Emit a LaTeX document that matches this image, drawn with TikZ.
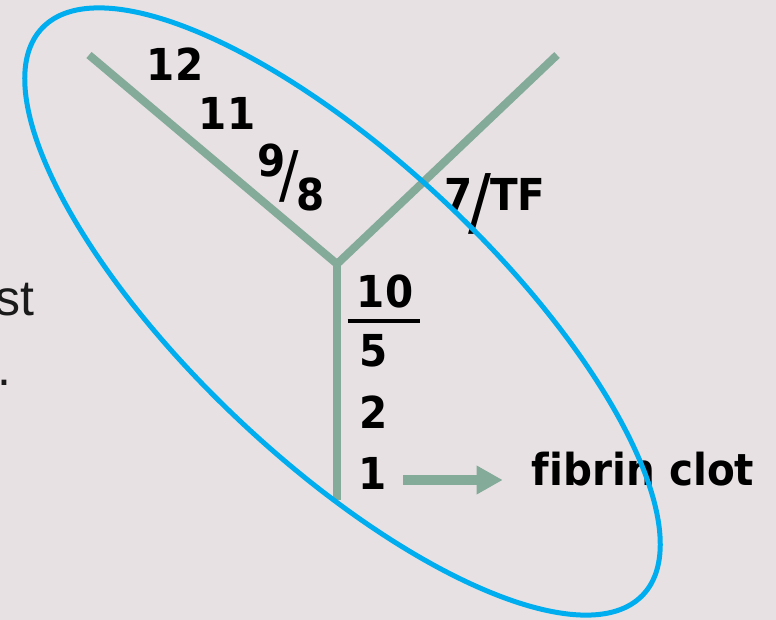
\documentclass[tikz,border=0pt]{standalone}
\usepackage{fontspec}
\usetikzlibrary{arrows.meta}
\newfontfamily\lblfont[FakeStretch=0.92,Ligatures=NoCommon]{DejaVu Sans}
\newfontfamily\txtfont{Liberation Sans}
\definecolor{cascade}{RGB}{132,170,153}
\definecolor{qqaeef}{RGB}{0,174,239}
\definecolor{eheceh}{RGB}{231,225,227}
\definecolor{qqqqqq}{RGB}{26,26,26}

\begin{document}
\begin{tikzpicture}[line cap=butt,line join=miter,x=1pt,y=-1pt,
	lbl/.style={inner sep=0pt,font=\lblfont\bfseries\fontsize{44}{44}\selectfont},
	slashlbl/.style={inner sep=0pt,font=\lblfont\fontsize{63}{63}\selectfont},
	sidetxt/.style={inner sep=0pt,text=qqqqqq,font=\txtfont\fontsize{50}{50}\selectfont},
	fwdarrow/.style={line width=10pt,color=cascade,-{Triangle[width=27pt,length=26pt]}}]
		\fill[color=eheceh] (0,0) rectangle (776,620);
		\useasboundingbox (0,0) rectangle (776,620);
		% text cut off at the left edge
		\node[sidetxt,anchor=base east] (st) at (35,315) {st};
		\node[sidetxt,anchor=base east] (dot) at (12,385) {.};
		% the Y
		\coordinate (intr) at (89,55);
		\coordinate (extr) at (557,55);
		\coordinate (meet) at (337,264);
		\coordinate (base) at (337,500);
		\draw [line width=8pt,color=cascade] (intr) -- (meet) -- (extr);
		\draw [line width=8pt,color=cascade] (meet) -- (base);
		% factors
		\node[lbl] (twelve) at (175,64) {12};
		\node[lbl] (eleven) at (227,113) {11};
		\node[lbl] (nine) at (272,161) {9};
		\node[slashlbl] (slashA) at (289,176) {/};
		\node[lbl] (eight) at (311,194) {8};
		\node[lbl] (seven) at (459,194) {7};
		\node[slashlbl,font=\lblfont\fontsize{74}{74}\selectfont] (slashB) at (480,204) {/};
		\node[lbl] (tf) at (518,194) {TF};
		\node[lbl] (ten) at (385,291) {10};
		\draw [line width=4pt] ([xshift=-9pt,yshift=-13pt]ten.south west) -- ([xshift=7pt,yshift=-13pt]ten.south east);
		\node[lbl] (five) at (374,351) {5};
		\node[lbl] (two) at (374,412) {2};
		\node[lbl] (one) at (373,473) {1};
		\node[lbl] (clot) at (643,469) {fibrin clot};
		\draw [fwdarrow,shorten <=16pt,shorten >=29pt] ([yshift=-7pt]one.east) -- ([yshift=-7pt]one.east -| clot.west);
		% common pathway ring
		\draw [line width=5pt,color=qqaeef,rotate around={-43.3:(342.5,311.5)}] (342.5,311.5) ellipse [x radius=413, y radius=150];
	\end{tikzpicture}
\end{document}
